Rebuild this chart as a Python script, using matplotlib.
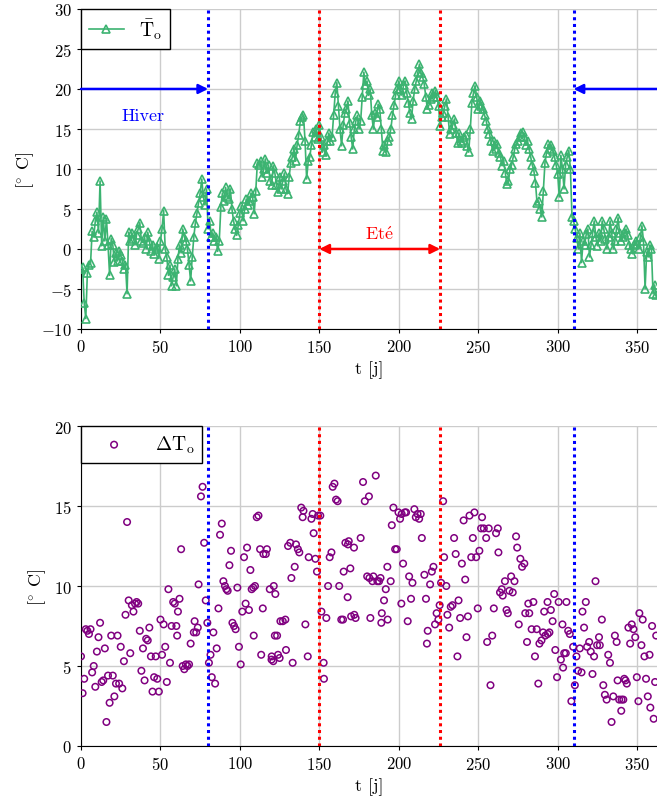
import numpy as np
import matplotlib
matplotlib.use("Agg")
import matplotlib.pyplot as plt

plt.rcParams['font.family'] = ['cmr10', 'DejaVu Serif']
plt.rcParams['mathtext.fontset'] = 'cm'
plt.rcParams['axes.formatter.use_mathtext'] = True

# --- donnees ---
# temperature moyenne journaliere (jour 0 a 362)
T_moy = [
    -2.5, -2.3, -6.7, -8.7, -3.0, -2.0, -1.8, 2.2, 1.5, 3.5,
    4.6, 2.0, 8.5, 0.4, 4.0, 1.0, 3.8, 0.5, -3.3, 1.3,
    0.5, -1.6, -0.5, -1.5, -0.2, -0.8, -1.5, -2.5, -2.0, -5.6,
    2.1, 1.0, 2.0, 1.3, 0.5, 1.8, 2.5, 3.3, 1.0, 0.8,
    1.5, 0.0, 2.1, 1.0, -0.2, 0.5, -0.6, 0.0, 0.3, -1.2,
    1.0, 2.5, 4.8, 0.0, -1.0, -3.3, -2.0, -4.6, -3.5, -2.5,
    -4.6, -1.25, 0.5, -0.5, 2.5, 1.5, 1.0, 0.0, -2.0, -4.0,
    -1.0, 1.5, 3.3, 4.5, 5.8, 7.0, 8.75, 6.5, 5.5, 7.5,
    2.5, 3.5, 1.5, 2.0, 1.0, 1.5, -0.3, 1.0, 5.2, 7.0,
    6.0, 7.7, 6.5, 6.25, 7.5, 5.0, 3.5, 2.5, 1.7, 3.0,
    4.5, 5.4, 3.5, 5.0, 6.25, 5.5, 6.0, 7.0, 6.5, 4.4,
    7.3, 10.8, 10.5, 11.0, 9.0, 10.0, 11.25, 9.5, 10.5, 8.5,
    8.0, 10.4, 9.5, 8.0, 7.1, 9.0, 7.5, 8.5, 9.5, 7.5,
    6.9, 9.0, 10.8, 11.5, 12.5, 11.0, 13.0, 14.2, 16.0, 16.5,
    16.7, 13.5, 8.75, 11.0, 11.5, 13.0, 14.6, 14.0, 15.0, 13.75,
    15.5, 14.0, 12.1, 13.0, 11.7, 13.5, 14.5, 13.5, 14.0, 16.7,
    19.5, 20.8, 17.9, 15.0, 12.9, 15.5, 17.0, 17.5, 18.5, 15.8,
    14.0, 12.5, 15.0, 16.0, 16.7, 15.0, 16.0, 19.0, 22.1, 20.5,
    21.0, 19.2, 20.0, 16.7, 15.0, 17.0, 16.5, 18.1, 17.5, 15.0,
    12.3, 13.0, 12.1, 13.5, 14.0, 15.0, 16.7, 18.0, 19.2, 20.0,
    21.0, 20.0, 19.2, 20.5, 21.0, 19.5, 18.3, 17.0, 16.25, 18.5,
    20.0, 21.0, 22.1, 23.1, 22.0, 21.5, 20.6, 19.0, 17.5, 18.0,
    18.75, 19.5, 19.0, 19.8, 19.0, 17.9, 15.4, 16.5, 17.0, 17.9,
    18.75, 16.5, 14.4, 15.0, 15.5, 16.25, 14.5, 13.3, 14.5, 13.5,
    13.3, 14.0, 14.2, 12.9, 12.1, 15.0, 18.3, 19.5, 20.4, 19.0,
    17.5, 18.5, 17.9, 17.5, 16.7, 16.0, 15.0, 14.4, 13.5, 12.3,
    13.5, 12.5, 13.1, 12.0, 11.5, 10.4, 11.0, 9.5, 8.1, 8.5,
    10.0, 10.5, 11.5, 12.5, 13.1, 13.5, 14.0, 14.5, 14.6, 14.0,
    13.0, 13.5, 12.5, 11.5, 10.5, 9.8, 8.3, 5.8, 6.0, 5.0,
    4.0, 7.3, 10.8, 12.0, 13.1, 12.5, 13.0, 12.3, 11.5, 10.5,
    9.4, 6.5, 11.7, 10.0, 7.5, 10.5, 11.5, 12.3, 10.0, 4.0,
    3.5, 2.5, 1.4, 0.0, 2.0, -1.7, 1.0, 0.5, 1.9, 2.5,
    -1.0, 0.5, 2.0, 3.5, 1.5, 0.4, 2.0, 1.0, 3.5, 2.5,
    1.25, 0.0, 1.5, 3.5, 2.0, 0.0, 1.0, 2.5, 3.9, 2.0,
    1.0, 1.5, 2.0, 2.5, 1.7, 0.5, 0.0, -0.6, 0.5, 1.0,
    0.6, 0.0, 1.5, 2.9, 1.0, -5.0, -0.4, -1.0, 0.5, 0.0,
    -5.6, -4.5, -5.8,
]
jours = list(range(len(T_moy)))

# amplitude journaliere (jour, valeur)
dT_jours = [
    0, 1, 2, 3, 4, 5, 6, 7, 8, 9,
    10, 11, 12, 13, 14, 15, 16, 17, 18, 19,
    20, 21, 22, 23, 24, 25, 26, 27, 28, 29,
    30, 31, 32, 33, 34, 35, 36, 37, 38, 39,
    40, 41, 42, 43, 44, 45, 46, 47, 48, 49,
    50, 51, 52, 53, 54, 55, 56, 57, 58, 59,
    60, 60.5, 61, 62, 63, 64, 65, 66, 67, 68,
    69, 71, 71.5, 72.5, 73.5, 74, 75.5, 76.5, 77.5, 78.5,
    79.5, 80.5, 81.5, 82.3, 83.3, 84.4, 85.4, 86.5, 87.5, 88.6,
    89.6, 90.6, 91.5, 92.3, 93.4, 94.4, 95.3, 96.3, 97.3, 98.4,
    99.4, 100.5, 101.5, 102.6, 103.6, 104.5, 105.7, 106.6, 107.4, 108.4, 108.7, 109.5,
    110.6, 111.7, 112.7, 113.4, 114.4, 114.8, 116.3, 117, 118.8, 119.9,
    121, 122, 122.3, 121.3, 123.4, 125.5, 127, 128.6, 120, 124, 125, 129,
    133.2, 132.4, 134.5, 130.3, 131.7, 135.3, 136.5, 137.4, 138.6, 140, 139.5,
    141.2, 142.7, 143.3, 145, 145.8, 146.4, 147.5, 148.5, 149.2, 150.6,
    151.3, 152.7, 152.9, 154.4, 155.5, 156.5, 157.6, 158.4, 159.5, 160.5, 161.5,
    162.5, 163.8, 164.9, 165.3, 166.4, 167.8, 168, 168.5, 169.5, 170, 171.8, 172, 172.8,
    176, 177.5, 178.6, 180.1, 181.5, 181.2, 182.1,
    183.4, 184, 185.5, 186.5, 187.6, 188.5, 189.3, 189, 190.7, 191.8, 192.8, 193,
    194.9, 195.6, 196.6, 197.7, 198.7, 199.8, 200.8, 201.6, 201.8, 202.7, 203.8, 204.6,
    205.6, 206.5, 207.7, 208.6, 209.8, 210.7, 211.8, 212.8, 213.8, 214.5, 216.1, 217.1,
    217.7, 218.2, 219.7, 220.8, 221.8, 222.8, 223.8, 224.9, 225.7, 226.6, 227.9, 228.5,
    229.9, 230.6, 231.7, 232.7, 233.8, 234.8, 235.8, 236.9, 237.6, 238.6, 239.7, 240.8,
    241.8, 242.6, 243.5, 244.5, 245.6, 246.6, 247.6, 248.7, 249.7, 250.7, 251.8, 252.4,
    253.5, 255, 255.6, 256.6, 257.7, 258.8, 259.8, 261.2, 262.3, 262.7, 263.7, 264.8,
    265.4, 266.8, 267.8, 268.6, 269.6, 270.7, 271.7, 272.8, 273.8, 274.5, 275.5, 276.5,
    277.6, 279, 279.6, 280.7, 281.5, 282.1, 283.6, 284.7, 285.7, 286.8, 287.8, 288.5,
    289.8, 290.8, 291.5, 292.2, 293.6, 293.7, 294.8, 295.7, 296.8, 297.8, 298.5, 299.6,
    300.6, 302, 303, 303.4, 304.1, 305.1, 305.5, 306.6, 307.6, 308.6, 309.7, 310.8,
    311.8, 312.8, 313.9, 315, 315.6, 316.6, 317.7, 318.5, 319.8, 320.8, 321.9, 322.9,
    323.8, 324.8, 326, 326.5, 327.8, 328.7, 329.7, 330.8, 331.8, 332.9, 333.9, 335,
    336, 337.1, 337.7, 338.7, 340, 340.2, 341.3, 341.9, 342.7, 343.5, 344.5, 345.6,
    346.6, 347.7, 348.8, 349.8, 350.8, 351.4, 352.7, 353.5, 354.6, 355.6, 356.7, 357.8,
    358.3, 359.4, 360.4, 361.3, 362,
]
dT_vals = [
    5.6, 3.3, 4.2, 7.3, 7.2, 7.0, 7.3, 4.6, 5.0, 3.7,
    5.9, 6.8, 7.7, 4.0, 4.1, 6.1, 1.5, 4.4, 2.7, 6.9,
    4.4, 3.1, 3.9, 6.9, 3.9, 6.2, 3.6, 5.3, 8.2, 14.0,
    9.1, 5.8, 8.8, 8.4, 8.9, 9.0, 8.9, 7.2, 4.7, 6.1,
    4.1, 6.7, 6.6, 7.4, 5.6, 3.4, 4.3, 5.6, 4.2, 3.4,
    7.9, 5.7, 7.6, 6.2, 4.0, 9.8, 5.2, 7.5, 9.0, 8.9,
    7.5, 6.9, 8.4, 9.2, 12.3, 5.0, 4.8, 5.1, 5.0, 5.1,
    6.4, 7.1, 7.8, 7.1, 7.4, 10.1, 15.6, 16.2, 12.7, 9.1,
    7.7, 5.2, 5.7, 4.3, 7.1, 3.9, 6.1, 8.6, 13.2, 13.9,
    10.3, 10.0, 9.8, 9.7, 11.3, 12.2, 7.7, 7.5, 7.3, 9.9,
    6.2, 5.1, 8.4, 11.8, 8.9, 12.4, 8.5, 11.0, 9.8, 9.9, 6.9, 10.0,
    14.3, 14.4, 12.3, 5.7, 8.6, 12.0, 12.0, 12.3, 9.8, 5.4,
    5.3, 6.9, 9.5, 10.0, 6.9, 7.8, 7.8, 7.9, 5.6, 5.7, 5.5, 6.0,
    5.2, 10.5, 11.2, 12.5, 12.7, 12.6, 12.3, 12.1, 14.9, 14.7, 14.3,
    7.6, 5.6, 11.8, 14.2, 14.5, 13.3, 11.7, 10.9, 14.4, 14.4,
    8.4, 5.2, 4.2, 8.0, 10.0, 11.8, 12.1, 16.2, 16.4, 15.4, 15.3,
    10.0, 7.9, 7.9, 10.9, 12.7, 9.3, 12.6, 12.8, 11.1, 8.1, 12.4, 8.2, 8.0,
    13.0, 16.5, 15.3, 10.6, 10.5, 15.6, 8.0,
    10.3, 10.6, 16.9, 10.3, 10.3, 10.5, 8.3, 7.7, 9.1, 9.8, 11.2, 7.9,
    10.3, 13.8, 14.9, 12.3, 12.3, 14.6, 14.2, 8.9, 14.5, 11.4, 14.6, 14.6,
    7.8, 10.6, 9.2, 10.2, 14.8, 14.3, 14.5, 14.2, 14.5, 13.0, 10.7, 9.2,
    6.4, 7.2, 10.1, 10.9, 11.2, 7.6, 8.3, 7.9, 8.8, 10.2, 15.3, 11.8,
    10.0, 8.2, 7.4, 8.7, 8.8, 13.0, 12.0, 5.6, 9.1, 8.0, 11.4, 14.1,
    10.4, 6.8, 8.1, 14.4, 11.8, 13.0, 14.6, 11.8, 8.6, 12.2, 13.6, 14.3,
    13.6, 13.0, 6.5, 13.6, 3.8, 6.9, 8.6, 13.3, 13.6, 12.1, 9.6, 9.8,
    9.4, 10.3, 8.5, 8.3, 9.7, 10.6, 9.6, 10.3, 13.1, 12.4, 7.6, 11.7,
    11.2, 11.4, 8.3, 6.5, 8.9, 8.3, 7.3, 9.0, 5.6, 7.3, 3.9, 6.4,
    6.6, 7.1, 8.4, 6.9, 9.0, 7.0, 7.1, 8.5, 7.8, 9.5, 6.0, 4.3,
    9.0, 5.4, 7.6, 4.9, 5.8, 5.8, 9.0, 7.2, 7.0, 2.8, 6.2, 3.8,
    5.6, 4.7, 6.1, 4.6, 8.4, 7.4, 9.0, 6.2, 6.5, 5.9, 4.5, 5.6,
    10.3, 6.3, 6.8, 6.3, 7.9, 3.8, 3.2, 2.9, 5.7, 5.2, 1.5, 3.1,
    6.9, 6.5, 4.1, 2.9, 2.2, 2.9, 2.9, 4.2, 4.1, 3.9, 7.4, 6.4,
    7.6, 7.3, 6.8, 4.3, 2.8, 8.3, 6.3, 7.9, 5.6, 4.2, 3.1, 5.7,
    2.4, 7.5, 1.7, 4.0, 6.9,
]

# limites des saisons
hiver_fin = 80
hiver_debut = 310
ete_debut = 150
ete_fin = 226

vert = '#3cb371'
violet = '#800080'
pointille = (0, (1, 1.2))

fig = plt.figure(figsize=(6.57, 8.04), dpi=100)
ax1 = fig.add_axes([0.1233, 0.5896, 0.8767, 0.398])
ax2 = fig.add_axes([0.1233, 0.0709, 0.8767, 0.398])

# --- graphique du haut ---
ax1.plot(jours, T_moy, color=vert, lw=1.2, marker='^', ms=5.5, mfc='none',
         mew=1.2, label=r'$\bar{\mathrm{T}}_\mathrm{o}$', zorder=3)
for x, c in [(hiver_fin, 'blue'), (hiver_debut, 'blue'), (ete_debut, 'red'), (ete_fin, 'red')]:
    ax1.axvline(x, color=c, lw=2.2, ls=pointille, zorder=4)
    ax2.axvline(x, color=c, lw=2.2, ls=pointille, zorder=4)

ax1.annotate('', xy=(hiver_fin, 20), xytext=(0, 20),
             arrowprops=dict(arrowstyle='-|>', color='blue', lw=1.8, mutation_scale=14,
                             shrinkA=0, shrinkB=0), zorder=5)
ax1.annotate('', xy=(hiver_debut, 20), xytext=(362.5, 20),
             arrowprops=dict(arrowstyle='-|>', color='blue', lw=1.8, mutation_scale=14,
                             shrinkA=0, shrinkB=0), zorder=5)
ax1.annotate('', xy=(ete_fin, 0), xytext=(ete_debut, 0),
             arrowprops=dict(arrowstyle='<|-|>', color='red', lw=1.8, mutation_scale=14,
                             shrinkA=0, shrinkB=0), zorder=5)
ax1.text(39, 16.7, 'Hiver', color='blue', fontsize=13, ha='center', va='center')
ax1.text(188, 2.0, r'$\mathrm{Et\acute{e}}$', color='red', fontsize=13,
         ha='center', va='center')

ax1.set_xlim(0, 362.5)
ax1.set_ylim(-10, 30)
ax1.set_xticks(np.arange(0, 351, 50))
ax1.set_yticks(np.arange(-10, 31, 5))
ax1.set_xlabel('t [j]', fontsize=13)
ax1.set_ylabel(r'[$^{\circ}$ C]', fontsize=13)

# --- graphique du bas ---
ax2.scatter(dT_jours, dT_vals, s=22, facecolors='none', edgecolors=violet,
            linewidths=1.1, label=r'$\Delta\mathrm{T}_\mathrm{o}$', zorder=3)
ax2.set_xlim(0, 362.5)
ax2.set_ylim(0, 20)
ax2.set_xticks(np.arange(0, 351, 50))
ax2.set_yticks(np.arange(0, 21, 5))
ax2.set_xlabel('t [j]', fontsize=13)
ax2.set_ylabel(r'[$^{\circ}$ C]', fontsize=13)

for ax, hl in ((ax1, 1.8), (ax2, 2.6)):
    ax.grid(True, color='#cccccc', lw=1.0)
    ax.set_axisbelow(True)
    ax.spines['top'].set_visible(False)
    ax.spines['right'].set_visible(False)
    ax.tick_params(labelsize=12, length=3)
    leg = ax.legend(loc='upper left', fontsize=14, frameon=True, fancybox=False,
                    borderaxespad=0, handlelength=hl)
    leg.get_frame().set_edgecolor('black')
    leg.get_frame().set_linewidth(1.0)
    leg.get_frame().set_alpha(1)

fig.savefig('out.png', dpi=100)
